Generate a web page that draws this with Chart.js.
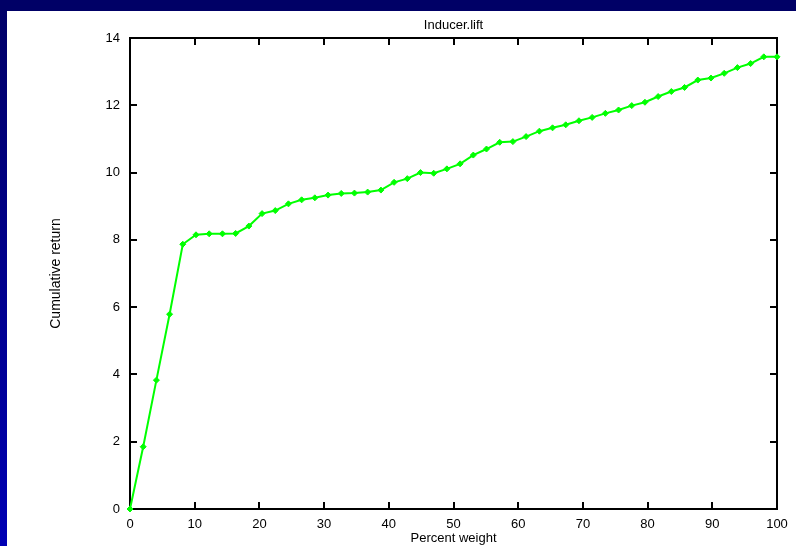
<!DOCTYPE html>
<html>
<head>
<meta charset="utf-8">
<script src="https://cdn.jsdelivr.net/npm/chart.js@4/dist/chart.umd.min.js"></script>
<style>
  html, body { margin: 0; padding: 0; }
  body { width: 796px; height: 546px; position: relative; overflow: hidden;
         background: linear-gradient(to bottom, #000066 0%, #00009a 70%, #0000b4 100%); }
  #top { position: absolute; left: 0; top: 0; width: 796px; height: 11px; background: #000066; }
  #wrap { position: absolute; left: 7px; top: 11px; width: 789px; height: 535px; background: #ffffff; }
  canvas { display: block; }
</style>
</head>
<body>
<div id="top"></div>
<div id="wrap"><canvas id="c" width="789" height="535"></canvas></div>
<script>
const chartTitle = "Inducer.lift";
const xTitle = "Percent weight";
const yTitle = "Cumulative return";
const xTickValues = [0, 10, 20, 30, 40, 50, 60, 70, 80, 90, 100];
const yTickValues = [0, 2, 4, 6, 8, 10, 12, 14];
const percentWeight = [0, 2.04, 4.08, 6.12, 8.16, 10.2, 12.24, 14.29, 16.33, 18.37,
  20.41, 22.45, 24.49, 26.53, 28.57, 30.61, 32.65, 34.69, 36.73, 38.78,
  40.82, 42.86, 44.9, 46.94, 48.98, 51.02, 53.06, 55.1, 57.14, 59.18,
  61.22, 63.27, 65.31, 67.35, 69.39, 71.43, 73.47, 75.51, 77.55, 79.59,
  81.63, 83.67, 85.71, 87.76, 89.8, 91.84, 93.88, 95.92, 97.96, 100];
const cumulativeReturn = [0, 1.85, 3.83, 5.79, 7.87, 8.15, 8.18, 8.18, 8.19, 8.41,
  8.78, 8.87, 9.07, 9.19, 9.25, 9.33, 9.38, 9.39, 9.42, 9.48,
  9.71, 9.82, 10.0, 9.98, 10.11, 10.26, 10.52, 10.7, 10.9, 10.92,
  11.07, 11.23, 11.33, 11.42, 11.54, 11.64, 11.76, 11.86, 11.99, 12.09,
  12.26, 12.41, 12.53, 12.75, 12.81, 12.95, 13.12, 13.24, 13.44, 13.44];

const FONT = "Liberation Sans, Arial, Helvetica, sans-serif";

const framePlugin = {
  id: 'frame',
  beforeDatasetsDraw(chart) {
    const { ctx, chartArea: a, scales } = chart;
    ctx.save();
    ctx.strokeStyle = '#000';
    ctx.lineWidth = 2;
    ctx.strokeRect(a.left, a.top, a.right - a.left, a.bottom - a.top);
    const t = 7;
    ctx.lineWidth = 2;
    ctx.beginPath();
    xTickValues.forEach(v => {
      const px = Math.round(scales.x.getPixelForValue(v));
      ctx.moveTo(px, a.bottom); ctx.lineTo(px, a.bottom - t);
      ctx.moveTo(px, a.top); ctx.lineTo(px, a.top + t);
    });
    yTickValues.forEach(v => {
      const py = Math.round(scales.y.getPixelForValue(v));
      ctx.moveTo(a.left, py); ctx.lineTo(a.left + t, py);
      ctx.moveTo(a.right, py); ctx.lineTo(a.right - t, py);
    });
    ctx.stroke();
    ctx.restore();
  },
  afterDraw(chart) {
    const { ctx, chartArea: a } = chart;
    const cx = (a.left + a.right) / 2;
    const cy = (a.top + a.bottom) / 2;
    ctx.save();
    ctx.fillStyle = '#000';
    ctx.font = "13px " + FONT;
    ctx.textAlign = 'center';
    ctx.textBaseline = 'middle';
    ctx.fillText(chartTitle, cx, 14);
    ctx.fillText(xTitle, cx, 527);
    ctx.translate(49, cy);
    ctx.rotate(-Math.PI / 2);
    ctx.font = "14px " + FONT;
    ctx.fillText(yTitle, 0, 0);
    ctx.restore();
  }
};

new Chart(document.getElementById('c'), {
  type: 'line',
  data: {
    datasets: [{
      data: percentWeight.map((x, i) => ({ x: x, y: cumulativeReturn[i] })),
      borderColor: '#00ff00',
      backgroundColor: '#00ff00',
      borderWidth: 2,
      pointStyle: 'rectRot',
      pointRadius: 3,
      pointBorderWidth: 1,
      pointBackgroundColor: '#00ff00',
      pointBorderColor: '#00ff00',
      tension: 0,
      fill: false,
      clip: false
    }]
  },
  options: {
    responsive: false,
    animation: false,
    devicePixelRatio: 1,
    layout: { padding: { top: 27, right: 19, left: 0, bottom: 0 } },
    plugins: { legend: { display: false }, tooltip: { enabled: false }, title: { display: false } },
    scales: {
      x: {
        type: 'linear', min: 0, max: 100,
        afterBuildTicks: s => { s.ticks = xTickValues.map(v => ({ value: v })); },
        afterFit: s => { s.height = 37; },
        grid: { display: false, drawTicks: false },
        border: { display: false },
        ticks: { color: '#000', font: { family: FONT, size: 13 }, padding: 8, maxRotation: 0, autoSkip: false }
      },
      y: {
        type: 'linear', min: 0, max: 14,
        afterBuildTicks: s => { s.ticks = yTickValues.map(v => ({ value: v })); },
        afterFit: s => { s.width = 123; },
        grid: { display: false, drawTicks: false },
        border: { display: false },
        ticks: { color: '#000', font: { family: FONT, size: 13 }, padding: 10, autoSkip: false }
      }
    }
  },
  plugins: [framePlugin]
});
</script>
</body>
</html>
